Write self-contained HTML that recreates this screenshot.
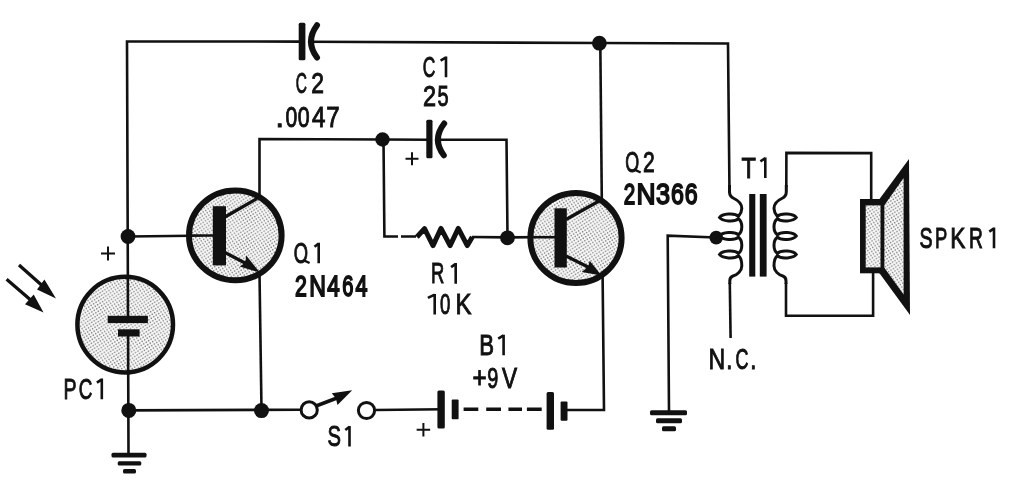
<!DOCTYPE html>
<html><head><meta charset="utf-8">
<style>
html,body{margin:0;padding:0;background:#fff;width:1033px;height:487px;overflow:hidden}
svg{display:block;will-change:transform}
text{font-family:"Liberation Sans",sans-serif;fill:#111;stroke:#111;stroke-width:1.0}
</style></head>
<body>
<svg width="1033" height="487" viewBox="0 0 1033 487">
<defs><pattern id="st" patternUnits="userSpaceOnUse" width="4.1" height="4.1" patternTransform="rotate(12)"><rect width="4.1" height="4.1" fill="#f8f8f8"/><circle cx="1" cy="1" r="0.75" fill="#7c7c7c"/><circle cx="3.05" cy="3.05" r="0.75" fill="#7c7c7c"/></pattern></defs>
<path d="M128.5,453 L127,41.5 L300,41.6 M310,41.7 L600,43 L728,43.5 L729.5,193" fill="none" stroke="#111" stroke-width="2.6" stroke-linecap="butt"/>
<path d="M128,236.5 L213,235.5" fill="none" stroke="#111" stroke-width="2.6" stroke-linecap="butt"/>
<path d="M259.5,197 L259.5,139 L383,139.5 L429,139.7 M436,139.7 L506.5,139.7 L507.5,237" fill="none" stroke="#111" stroke-width="2.6" stroke-linecap="butt"/>
<path d="M383.5,139.5 L384.4,236.5 L398,236.5 M401,236.5 L416,236.5 M472,237 L507.5,237.4 L555,237" fill="none" stroke="#111" stroke-width="2.6" stroke-linecap="butt"/>
<path d="M259.5,273 L261.5,410" fill="none" stroke="#111" stroke-width="2.6" stroke-linecap="butt"/>
<path d="M128,410.4 L300,409.7 M375.6,410 L444,409.3 M567,410 L604,410 L602.6,275" fill="none" stroke="#111" stroke-width="2.6" stroke-linecap="butt"/>
<path d="M601.8,200 L600.3,43.4" fill="none" stroke="#111" stroke-width="2.6" stroke-linecap="butt"/>
<path d="M716,237.5 L667.7,235.7 L669,411" fill="none" stroke="#111" stroke-width="2.6" stroke-linecap="butt"/>
<path d="M729.8,283 L730.6,338" fill="none" stroke="#111" stroke-width="2.6" stroke-linecap="butt"/>
<path d="M786.3,187 L786.4,152.9 L871.2,153.1 L871.2,200 M873.1,273 L873.1,315.7 L786,315.6 L786,283" fill="none" stroke="#111" stroke-width="2.6" stroke-linecap="butt"/>
<circle cx="128" cy="236.5" r="7.4" fill="#111"/>
<circle cx="128.8" cy="410.4" r="7.5" fill="#111"/>
<circle cx="261.5" cy="410.6" r="7.5" fill="#111"/>
<circle cx="382.5" cy="139.5" r="7.2" fill="#111"/>
<circle cx="507.5" cy="237.8" r="7.4" fill="#111"/>
<circle cx="599.4" cy="43.2" r="7.4" fill="#111"/>
<circle cx="716.2" cy="237.6" r="6.8" fill="#111"/>
<rect x="298.7" y="22.7" width="6.7" height="37.5" rx="1.5" fill="#111"/>
<path d="M317,25.2 Q305,41.5 317,57.5" fill="none" stroke="#111" stroke-width="6" stroke-linecap="round"/>
<rect x="426.3" y="119.8" width="6.2" height="38.5" rx="1.5" fill="#111"/>
<path d="M444.2,123.5 Q431.8,139.5 443.8,155.3" fill="none" stroke="#111" stroke-width="6" stroke-linecap="round"/>
<polyline points="416.9,237 424.5,228.6 433,245.6 441,228.4 450.1,245.6 458.3,228.4 467.3,245.6 472.3,237" fill="none" stroke="#111" stroke-width="5" stroke-linejoin="round"/>
<ellipse cx="235.3" cy="235.4" rx="46.3" ry="44.9" fill="url(#st)" stroke="#111" stroke-width="6"/>
<path d="M190,235.6 L213,235.5" fill="none" stroke="#111" stroke-width="2.6" stroke-linecap="butt"/>
<rect x="212.8" y="206.2" width="13.2" height="59.2" fill="#111"/>
<path d="M225,217 L257,198.5" stroke="#111" stroke-width="3.2" fill="none"/>
<path d="M225,252.5 L245,263" stroke="#111" stroke-width="3.3" fill="none"/>
<path d="M259.8,272.6 L246,255.3 L245.7,260.5 L243,264.3 L239.7,266.6 Z" fill="#111"/>
<ellipse cx="576" cy="238" rx="45.6" ry="45" fill="url(#st)" stroke="#111" stroke-width="6"/>
<path d="M530,237.2 L555,237.2" fill="none" stroke="#111" stroke-width="2.6" stroke-linecap="butt"/>
<rect x="554.5" y="208.3" width="12.3" height="59.2" fill="#111"/>
<path d="M566,219.5 L600,200.5" stroke="#111" stroke-width="3.2" fill="none"/>
<path d="M566,256 L588,267" stroke="#111" stroke-width="3.3" fill="none"/>
<path d="M601.5,275.6 L589.7,260.8 L588.6,265.1 L586,268.4 L581.7,271.9 Z" fill="#111"/>
<circle cx="125.2" cy="324.6" r="47.8" fill="url(#st)" stroke="#111" stroke-width="4.5"/>
<path d="M127.8,275 L128,317 M128.1,335 L128.2,375" fill="none" stroke="#111" stroke-width="2.6" stroke-linecap="butt"/>
<rect x="107.7" y="315.8" width="40.2" height="7.3" fill="#111"/>
<rect x="118" y="329.3" width="21.6" height="7.2" fill="#111"/>
<rect x="111.5" y="452.8" width="35" height="4.6" rx="1.5" fill="#111"/>
<rect x="117.7" y="461.3" width="23.6" height="4.2" rx="1.5" fill="#111"/>
<rect x="123" y="469" width="13" height="4.6" rx="1.5" fill="#111"/>
<rect x="650" y="410.3" width="37" height="5" rx="1.5" fill="#111"/>
<rect x="656" y="418.3" width="26" height="5" rx="1.5" fill="#111"/>
<rect x="662" y="426.3" width="14" height="5" rx="1.5" fill="#111"/>
<path d="M101.0,253.5 H115.0 M108,246.5 V260.5" stroke="#111" stroke-width="2"/>
<path d="M405.5,158.7 H418.5 M412,152.2 V165.2" stroke="#111" stroke-width="2"/>
<path d="M416.65,429.8 H430.15 M423.4,423.05 V436.55" stroke="#111" stroke-width="2"/>
<path d="M19,265 L46,289 M6.6,279.2 L33,302" stroke="#111" stroke-width="3.3"/>
<path d="M56,298.5 L44.4,279.6 L37,289.4 Z M43.5,312.4 L33.7,294.4 L25,304.2 Z" fill="#111"/>
<path d="M316,406 L337,398" stroke="#111" stroke-width="3.5"/>
<path d="M352.2,390.3 L331.8,393.2 L335.8,398.2 L337.5,405 Z" fill="#111"/>
<circle cx="309.2" cy="409.9" r="8.1" fill="#fff" stroke="#111" stroke-width="3"/>
<circle cx="366.5" cy="410.5" r="8.1" fill="#fff" stroke="#111" stroke-width="3"/>
<rect x="437.4" y="390.4" width="7.4" height="38" rx="1.5" fill="#111"/>
<rect x="451.7" y="399.5" width="6.9" height="19.7" rx="1" fill="#111"/>
<path d="M463.6,409.3 H478.3 M486.2,409.3 H501 M508.4,409.3 H522 M526.9,409.3 H541.7" stroke="#111" stroke-width="3.5"/>
<rect x="546.6" y="392.1" width="7.4" height="37.7" rx="1.5" fill="#111"/>
<rect x="560.6" y="401.4" width="6.9" height="19.3" rx="1" fill="#111"/>
<path d="M729.5,185.0 L729.5,192.0 Q729.6,196.5 734.0,198.5 C739.5,201.0 741.8,204.5 741.8,208.5 C741.8,212.0 740.0,214.5 738.5,216.3 C734.5,212.5 722.0,213.8 719.5,217.5 C722.0,221.2 734.5,222.5 738.5,218.7 C740.5,220.2 741.8,221.8 741.8,226.8 C741.8,231.8 740.5,233.3 738.5,234.8 C734.5,231.0 722.0,232.2 719.5,236.0 C722.0,239.8 734.5,241.0 738.5,237.2 C740.5,238.7 741.8,240.2 741.8,245.2 C741.8,250.2 740.5,251.8 738.5,253.3 C734.5,249.5 722.0,250.8 719.5,254.5 C722.0,258.2 734.5,259.5 738.5,255.7 C741.0,257.7 741.8,261.0 741.8,266.0 C741.8,271.0 737.0,275.0 733.0,276.0 Q729.8,277.0 729.8,281.0 L729.8,284.0" fill="none" stroke="#111" stroke-width="3"/>
<path d="M786.3,185.0 L786.3,192.0 Q786.2,196.5 781.8,198.5 C776.3,201.0 774.0,204.5 774.0,208.5 C774.0,212.0 775.8,214.5 777.3,216.3 C781.3,212.5 793.8,213.8 796.3,217.5 C793.8,221.2 781.3,222.5 777.3,218.7 C775.3,220.2 774.0,221.8 774.0,226.8 C774.0,231.8 775.3,233.3 777.3,234.8 C781.3,231.0 793.8,232.2 796.3,236.0 C793.8,239.8 781.3,241.0 777.3,237.2 C775.3,238.7 774.0,240.2 774.0,245.2 C774.0,250.2 775.3,251.8 777.3,253.3 C781.3,249.5 793.8,250.8 796.3,254.5 C793.8,258.2 781.3,259.5 777.3,255.7 C774.8,257.7 774.0,261.0 774.0,266.0 C774.0,271.0 778.8,275.0 782.8,276.0 Q786.0,277.0 786.0,281.0 L786.0,284.0" fill="none" stroke="#111" stroke-width="3"/>
<rect x="749.2" y="194" width="6.1" height="82.6" fill="#111"/>
<rect x="759.8" y="194" width="6.8" height="82.6" fill="#111"/>
<polygon points="879.5,199 909,159 910,315 879.5,273.3" fill="#111"/>
<polygon points="884.2,205.4 903.6,178 903.6,294.5 884.2,267.5" fill="url(#st)"/>
<rect x="860" y="199" width="24.2" height="74.3" fill="#111"/>
<rect x="865.7" y="205.4" width="14.8" height="62" fill="url(#st)"/>
<text transform="translate(295.73,93.00) scale(0.516,1)" font-size="30.0">C</text>
<text transform="translate(311.16,93.00) scale(0.762,1)" font-size="30.0">2</text>
<text transform="translate(275.58,126.50) scale(1.018,1)" font-size="30.0">.</text>
<text transform="translate(285.45,126.50) scale(0.705,1)" font-size="30.0">0</text>
<text transform="translate(297.85,126.50) scale(0.712,1)" font-size="30.0">0</text>
<text transform="translate(311.96,126.50) scale(0.805,1)" font-size="30.0">4</text>
<text transform="translate(326.34,126.50) scale(0.803,1)" font-size="30.0">7</text>
<text transform="translate(422.63,76.70) scale(0.580,1)" font-size="30.0">C</text>
<path d="M446.00,56.58 V77.20 M440.60,60.58 L446.00,57.38" stroke="#111" stroke-width="2.6" fill="none"/>
<text transform="translate(422.92,106.30) scale(0.784,1)" font-size="30.0">2</text>
<text transform="translate(437.50,106.30) scale(0.667,1)" font-size="30.0">5</text>
<path d="M303.40,260.10 L309.60,263.00" stroke="#111" stroke-width="2.4" fill="none"/>
<text transform="translate(293.83,262.80) scale(0.611,1)" font-size="30.0">O</text>
<path d="M318.70,242.68 V263.30 M314.50,246.68 L318.70,243.48" stroke="#111" stroke-width="2.6" fill="none"/>
<text transform="translate(295.03,295.90) scale(0.711,1)" font-size="30.0" style="stroke-width:1.8">2</text>
<text transform="translate(309.19,295.90) scale(0.771,1)" font-size="30.0" style="stroke-width:1.8">N</text>
<text transform="translate(327.30,295.90) scale(0.746,1)" font-size="30.0" style="stroke-width:1.8">4</text>
<text transform="translate(342.29,295.90) scale(0.670,1)" font-size="30.0" style="stroke-width:1.8">6</text>
<text transform="translate(355.51,295.90) scale(0.719,1)" font-size="30.0" style="stroke-width:1.8">4</text>
<text transform="translate(431.08,283.20) scale(0.613,1)" font-size="30.0">R</text>
<path d="M455.70,263.07 V283.70 M451.10,267.07 L455.70,263.88" stroke="#111" stroke-width="2.6" fill="none"/>
<path d="M434.70,293.88 V314.50 M427.90,297.88 L434.70,294.68" stroke="#111" stroke-width="2.6" fill="none"/>
<text transform="translate(440.05,314.00) scale(0.621,1)" font-size="30.0">0</text>
<text transform="translate(455.53,314.00) scale(0.798,1)" font-size="30.0">K</text>
<text transform="translate(63.49,398.70) scale(0.651,1)" font-size="30.0">P</text>
<text transform="translate(78.66,398.70) scale(0.627,1)" font-size="30.0">C</text>
<path d="M101.80,378.57 V399.20 M96.90,382.57 L101.80,379.38" stroke="#111" stroke-width="2.6" fill="none"/>
<text transform="translate(327.59,446.10) scale(0.672,1)" font-size="30.0">S</text>
<path d="M349.50,425.98 V446.60 M345.30,429.98 L349.50,426.78" stroke="#111" stroke-width="2.6" fill="none"/>
<text transform="translate(479.37,354.80) scale(0.739,1)" font-size="30.0">B</text>
<path d="M503.60,334.68 V355.30 M498.20,338.68 L503.60,335.48" stroke="#111" stroke-width="2.6" fill="none"/>
<text transform="translate(472.39,388.00) scale(0.804,1)" font-size="30.0">+</text>
<text transform="translate(487.26,388.00) scale(0.663,1)" font-size="30.0">9</text>
<text transform="translate(502.09,388.00) scale(0.755,1)" font-size="30.0">V</text>
<path d="M634.50,169.60 L640.70,172.50" stroke="#111" stroke-width="2.4" fill="none"/>
<text transform="translate(625.25,172.30) scale(0.596,1)" font-size="30.0">O</text>
<text transform="translate(643.05,172.30) scale(0.703,1)" font-size="30.0">2</text>
<text transform="translate(623.77,204.10) scale(0.689,1)" font-size="30.0" style="stroke-width:1.8">2</text>
<text transform="translate(636.42,204.10) scale(0.879,1)" font-size="30.0" style="stroke-width:1.8">N</text>
<text transform="translate(656.05,204.10) scale(0.842,1)" font-size="30.0" style="stroke-width:1.8">3</text>
<text transform="translate(670.94,204.10) scale(0.771,1)" font-size="30.0" style="stroke-width:1.8">6</text>
<text transform="translate(684.74,204.10) scale(0.771,1)" font-size="30.0" style="stroke-width:1.8">6</text>
<text transform="translate(741.47,177.50) scale(0.785,1)" font-size="30.0">T</text>
<path d="M765.30,157.38 V178.00 M760.40,161.38 L765.30,158.18" stroke="#111" stroke-width="2.6" fill="none"/>
<text transform="translate(708.49,368.70) scale(0.771,1)" font-size="30.0">N</text>
<text transform="translate(726.26,368.70) scale(0.737,1)" font-size="30.0">.</text>
<text transform="translate(735.41,368.70) scale(0.596,1)" font-size="30.0">C</text>
<text transform="translate(750.26,368.70) scale(0.737,1)" font-size="30.0">.</text>
<text transform="translate(919.62,247.70) scale(0.655,1)" font-size="30.0">S</text>
<text transform="translate(934.98,247.70) scale(0.613,1)" font-size="30.0">P</text>
<text transform="translate(950.13,247.70) scale(0.757,1)" font-size="30.0">K</text>
<text transform="translate(969.11,247.70) scale(0.641,1)" font-size="30.0">R</text>
<path d="M994.00,227.57 V248.20 M989.30,231.57 L994.00,228.38" stroke="#111" stroke-width="2.6" fill="none"/>
</svg>
</body></html>
